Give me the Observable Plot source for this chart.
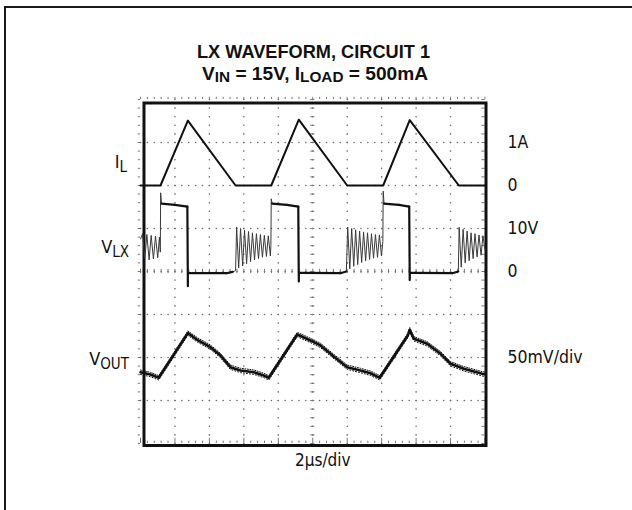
<!DOCTYPE html>
<html>
<head>
<meta charset="utf-8">
<script src="https://cdn.jsdelivr.net/npm/d3@7"></script>
<script src="https://cdn.jsdelivr.net/npm/@observablehq/plot@0.6"></script>
<style>
  html, body { margin: 0; padding: 0; background: #fff; }
  #wrap { position: relative; width: 632px; height: 510px; overflow: hidden; background: #fff; }
  #outer { position: absolute; left: 4px; top: 6px; width: 700px; height: 600px;
           border-top: 2px solid #1a1a1a; border-left: 2px solid #1a1a1a; }
  #chart { position: absolute; left: 0; top: 0; }
</style>
</head>
<body>
<div id="wrap">
  <div id="outer"></div>
  <div id="chart"></div>
</div>
<script>
// ---------------- data (read from the scope capture) ----------------
// Inductor current IL (A) vs time (µs)
const timeIL    = [0, 1.16, 2.75, 5.52, 7.59, 9.19, 12.0, 14.09, 15.63, 18.48, 20];
const currentIL = [0, 0,    1.51, 0,    0,    1.53, 0,    0,     1.52,  0,     0];

// LX node voltage VLX (V) vs time (µs)
const timeVLX = [
  0.00, 0.12, 0.25, 0.37, 0.50, 0.62, 0.75, 0.87, 1.00, 1.10, 1.15,
  1.17, 1.22, 2.00, 2.72, 2.75, 2.78, 5.00, 5.35, 5.52,
  5.58, 5.70, 5.81, 5.93, 6.04, 6.16, 6.27, 6.39, 6.50, 6.62, 6.73, 6.85, 6.96, 7.08, 7.19, 7.31, 7.42, 7.54, 7.57,
  7.59, 7.64, 8.50, 9.16, 9.19, 9.22, 11.60, 11.95,
  12.03, 12.15, 12.26, 12.38, 12.49, 12.61, 12.72, 12.84, 12.95, 13.07, 13.18, 13.30, 13.41, 13.53, 13.64, 13.76, 13.87, 13.99, 14.07,
  14.09, 14.14, 15.00, 15.60, 15.63, 15.66, 18.10, 18.45,
  18.50, 18.62, 18.73, 18.85, 18.96, 19.08, 19.19, 19.31, 19.42, 19.54, 19.65, 19.77, 19.88, 20.00
];
const voltsVLX = [
  7.5, 8.8, 3.0, 8.6, 2.7, 8.4, 2.9, 8.2, 3.2, 8.0, 4.5,
  18.3, 15.8, 15.5, 15.1, -3.4, -0.4, -0.4, -0.1, 0.2,
  10.3, 0.8, 10.0, 1.3, 9.6, 1.8, 9.3, 2.3, 9.0, 2.7, 8.8, 3.0, 8.6, 3.3, 8.4, 3.5, 8.3, 3.6, 6.0,
  16.9, 15.8, 15.5, 15.1, -2.3, -0.3, -0.4, 0.0,
  10.3, 0.6, 10.0, 1.2, 9.7, 1.6, 9.4, 2.1, 9.2, 2.5, 9.0, 2.8, 8.8, 3.1, 8.6, 3.3, 8.5, 3.6, 7.0,
  18.7, 15.8, 15.5, 15.1, -2.0, -0.3, -0.4, 0.0,
  10.3, 1.0, 9.8, 2.0, 9.4, 2.5, 9.0, 3.0, 8.8, 3.4, 8.5, 3.8, 8.3, 5.0
];

// Output ripple VOUT (mV, AC coupled) vs time (µs)
const timeVOUT = [0, 0.58, 1.06, 2.75, 3.29, 4.06, 4.64, 5.22, 5.81, 6.58, 7.16, 7.45,
                  9.10, 9.87, 10.45, 11.22, 12.0, 12.77, 13.35, 13.89,
                  15.52, 15.63, 15.87, 16.64, 17.42, 18.0, 18.77, 19.84, 20];
const mvVOUT   = [-17.1, -19.8, -23.6, 28.3, 20.6, 12.0, 2.3, -11.3, -15.1, -17.1, -20.9, -23.6,
                  26.7, 19.8, 14.0, 1.2, -11.3, -15.1, -18.3, -23.6,
                  25.6, 32.2, 21.7, 15.9, 4.3, -7.3, -13.1, -19.0, -19.5];

// Channel labels on the right (value at which each label sits)
const rightLabelText  = ["1A", "0", "10V", "0", "50mV/div"];
const rightLabelValue = [1, 0, 10, 0, 0];
const rightLabelChan  = ["IL", "IL", "VLX", "VLX", "VOUT"];

const titleLine1 = "LX WAVEFORM, CIRCUIT 1";
const timeBaseLabel = "2µs/div";

// ---------------- scope setup (graticule divisions) ----------------
const channel = {                       // zero position (div) and units per div
  IL:   {zero: 6, perDiv: 1},
  VLX:  {zero: 4, perDiv: 10},
  VOUT: {zero: 2, perDiv: 50}
};
const toDiv = (ch, v) => channel[ch].zero + v / channel[ch].perDiv;

const ilData   = timeIL.map((t, i) => ({t, div: toDiv("IL", currentIL[i])}));
const vlxPts   = timeVLX.map((t, i) => ({t, v: voltsVLX[i], div: toDiv("VLX", voltsVLX[i])}));
const vlxSegs  = d3.pairs(vlxPts).map(([a, b]) => ({
  x1: a.t, y1: a.div, x2: b.t, y2: b.div,
  thick: (b.t - a.t) > 0.2 || (b.v - a.v) < -10
}));
const voutData = timeVOUT.map((t, i) => ({t, div: toDiv("VOUT", mvVOUT[i])}));
const rightLabels = rightLabelText.map((label, i) => ({label, div: toDiv(rightLabelChan[i], rightLabelValue[i])}));

// graticule
const majorX = d3.range(0, 20.001, 2), minorX = d3.range(0, 20.001, 0.4);
const majorY = d3.range(0, 8.001, 1),  minorY = d3.range(0, 8.001, 0.2);
const gridDots = [];
for (const x of majorX.slice(1, -1)) for (const y of minorY) gridDots.push({x, y});
for (const y of majorY.slice(1, -1)) for (const x of minorX) gridDots.push({x, y});
const isMajorX = x => Math.abs(x / 2 - Math.round(x / 2)) < 1e-6;
const ticksV = [], ticksH = [];
for (const x of minorX) {
  ticksV.push({x, y1: 8, y2: 8.05});                              // top edge
  ticksV.push({x, y1: 0, y2: isMajorX(x) ? 0.12 : 0.055});         // bottom edge
  ticksV.push({x, y1: 3.95, y2: 4.05});                           // center horizontal axis
}
for (const y of minorY) {
  ticksH.push({y, x1: -0.13, x2: 0});                             // left edge
  ticksH.push({y, x1: 19.82, x2: 20});                            // right edge
  ticksH.push({y, x1: 9.88, x2: 10.12});                          // center vertical axis
}

const svg = Plot.plot({
  width: 632, height: 510,
  marginLeft: 140, marginRight: 147.5, marginTop: 99, marginBottom: 67,
  x: {domain: [0, 20], axis: null},
  y: {domain: [0, 8], axis: null},
  style: {fontFamily: "'Liberation Sans Narrow','DejaVu Sans Condensed','Liberation Sans',sans-serif",
          fontSize: "17.5px", color: "#111", background: "transparent", overflow: "visible"},
  marks: [
    Plot.dot(gridDots, {x: "x", y: "y", r: 0.8, fill: "#666", stroke: null}),
    Plot.ruleX(ticksV, {x: "x", y1: "y1", y2: "y2", stroke: "#777", strokeWidth: 1}),
    Plot.ruleY(ticksH, {y: "y", x1: "x1", x2: "x2", stroke: "#777", strokeWidth: 1}),
    Plot.frame({stroke: "#111", strokeWidth: 3, insetLeft: 3.5, insetTop: 3.5, insetRight: -1, insetBottom: -2}),
    Plot.line(ilData, {x: "t", y: "div", stroke: "#111", strokeWidth: 2, strokeLinejoin: "round"}),
    Plot.link(vlxSegs.filter(d => !d.thick), {x1: "x1", y1: "y1", x2: "x2", y2: "y2", stroke: "#3a3a3a", strokeWidth: 1}),
    Plot.link(vlxSegs.filter(d => d.thick), {x1: "x1", y1: "y1", x2: "x2", y2: "y2", stroke: "#111", strokeWidth: 2.2, strokeLinecap: "round"}),
    // noisy trace look: solid core plus dotted fringes either side
    Plot.line(voutData, {x: "t", y: "div", stroke: "#111", strokeWidth: 1, strokeDasharray: "1 1.5", dy: -2.2}),
    Plot.line(voutData, {x: "t", y: "div", stroke: "#111", strokeWidth: 1, strokeDasharray: "1 2", dy: 2.2}),
    Plot.line(voutData, {x: "t", y: "div", stroke: "#111", strokeWidth: 2.6}),
    Plot.text(rightLabels, {y: "div", text: "label", frameAnchor: "right", textAnchor: "start", dx: 22.5, fontSize: 17.5, fill: "#111"}),
    Plot.text([timeBaseLabel], {frameAnchor: "bottom", text: d => d, dy: 22, dx: 10, fontSize: 17, fill: "#111"})
  ]
});
document.getElementById("chart").appendChild(svg);

// Titles and subscripted channel names (SVG text with tspans)
const g = d3.select(svg).append("g").attr("fill", "#111");
g.append("text")
  .attr("x", 313.5).attr("y", 58).attr("text-anchor", "middle")
  .attr("font-family", "'Liberation Sans',Arial,sans-serif").attr("font-weight", "bold").attr("font-size", 17.5)
  .attr("textLength", 233).attr("lengthAdjust", "spacingAndGlyphs")
  .text(titleLine1);

const t2 = g.append("text")
  .attr("x", 315).attr("y", 79.5).attr("text-anchor", "middle")
  .attr("font-family", "'Liberation Sans',Arial,sans-serif").attr("font-weight", "bold").attr("font-size", 17.5)
  .attr("textLength", 226).attr("lengthAdjust", "spacingAndGlyphs");
[["V", 0, 17.5], ["IN", 2.5, 14], [" = 15V, I", -2.5, 17.5], ["LOAD", 2.5, 14], [" = 500mA", -2.5, 17.5]]
  .forEach(([s, dy, fs]) => t2.append("tspan").attr("dy", dy).attr("font-size", fs).text(s));

const sideFont = "'Liberation Sans Narrow','DejaVu Sans Condensed',sans-serif";
[["I", "L", 127, 168], ["V", "LX", 129, 253], ["V", "OUT", 129, 365]].forEach(([main, sub, x, y]) => {
  const t = g.append("text").attr("x", x).attr("y", y).attr("text-anchor", "end")
    .attr("font-family", sideFont).attr("font-size", 18);
  t.append("tspan").text(main);
  t.append("tspan").attr("dy", 4).attr("font-size", 15).text(sub);
});
</script>
</body>
</html>
